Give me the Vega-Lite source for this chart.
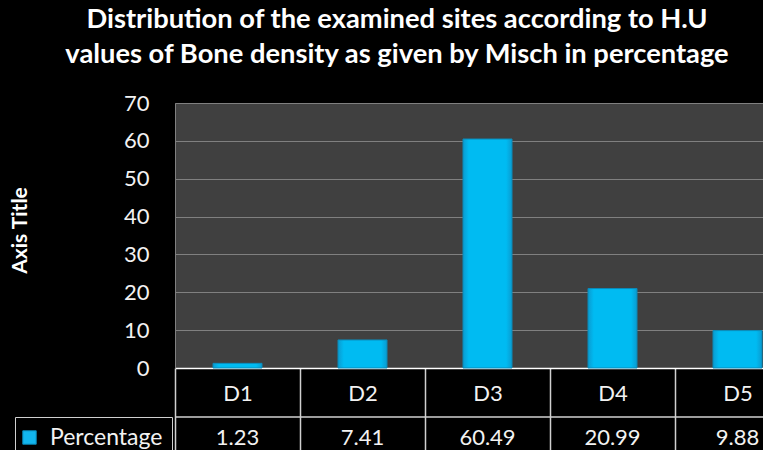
{
  "$schema": "https://vega.github.io/schema/vega-lite/v6.json",
  "width": 588,
  "height": 265,
  "autosize": {"type": "none"},
  "padding": {"left": 175, "top": 103, "right": 0, "bottom": 82},
  "background": "#000000",
  "view": {"fill": "#404040", "stroke": null},
  "config": {
    "axisY": {
      "titleFont": "Lato",
      "titleFontSize": 21,
      "titleFontWeight": "bold",
      "titleColor": "#ffffff",
      "titleAngle": 270,
      "titleX": -155,
      "titleY": 127,
      "titleAlign": "center",
      "titleBaseline": "middle",
      "labelOverlap": false,
      "labelFont": "Lato",
      "labelFontSize": 22,
      "labelColor": "#f2f2f2",
      "labelPadding": 26,
      "ticks": false,
      "domainColor": "#808080",
      "gridColor": "#808080",
      "gridWidth": 1.2
    }
  },
  "title": {
    "text": ["Distribution of the examined sites according to H.U", "values of Bone density as given by Misch in percentage"],
    "font": "Lato",
    "fontSize": 27.3,
    "fontWeight": "bold",
    "color": "#ffffff",
    "lineHeight": 35,
    "anchor": "middle",
    "frame": "group",
    "dx": -72,
    "offset": 24
  },
  "data": {
    "values": [
      {"category": "D1", "percentage": 1.23},
      {"category": "D2", "percentage": 7.41},
      {"category": "D3", "percentage": 60.49},
      {"category": "D4", "percentage": 20.99},
      {"category": "D5", "percentage": 9.88}
    ]
  },
  "encoding": {
    "x": {
      "field": "category",
      "type": "nominal",
      "sort": null,
      "scale": {"range": [0, 625], "paddingInner": 0, "paddingOuter": 0},
      "axis": {
        "title": null,
        "labelAngle": 0,
        "labelFont": "Lato",
        "labelFontSize": 22,
        "labelColor": "#f2f2f2",
        "labelBaseline": "middle",
        "labelPadding": -57,
        "tickSize": 82,
        "tickColor": "#d0d0d0",
        "tickWidth": 1.5,
        "tickBand": "extent",
        "domainColor": "#ffffff",
        "domainWidth": 1.5,
        "grid": false
      }
    }
  },
  "layer": [
    {
      "mark": {"type": "bar", "width": {"band": 0.392}},
      "encoding": {
        "y": {
          "field": "percentage",
          "type": "quantitative",
          "title": "Axis Title",
          "scale": {"domain": [0, 70], "nice": false},
          "axis": {"values": [0, 10, 20, 30, 40, 50, 60, 70], "tickCount": 10}
        },
        "color": {
          "datum": "Percentage",
          "scale": {"range": ["#12b6ee"]},
          "legend": {
            "title": null,
            "orient": "none",
            "legendX": -160,
            "legendY": 314,
            "strokeColor": "#d0d0d0",
            "padding": 9,
            "symbolOffset": -6,
            "symbolType": "square",
            "symbolSize": 180,
            "symbolStrokeColor": "#0b8ab8",
            "symbolStrokeWidth": 1,
            "labelOffset": 9,
            "labelFont": "Lato",
            "labelFontSize": 23,
            "labelColor": "#f2f2f2"
          }
        }
      }
    },
    {
      "mark": {
        "type": "bar",
        "width": {"band": 0.392},
        "stroke": "#0b8ab8",
        "strokeWidth": 1,
        "fill": {
          "x1": 0, "y1": 0, "x2": 1, "y2": 0,
          "gradient": "linear",
          "stops": [
            {"offset": 0, "color": "#0a9bd0"},
            {"offset": 0.12, "color": "#00bbf2"},
            {"offset": 0.88, "color": "#00bbf2"},
            {"offset": 1, "color": "#0a9bd0"}
          ]
        }
      },
      "encoding": {
        "y": {"field": "percentage", "type": "quantitative"}
      }
    },
    {
      "data": {"values": [{"row": "separator"}]},
      "mark": {"type": "rule", "color": "#d0d0d0", "strokeWidth": 1.5, "yOffset": 49},
      "encoding": {"x": null, "y": {"datum": 0, "type": "quantitative"}}
    },
    {
      "mark": {"type": "text", "dy": 70, "baseline": "middle", "font": "Lato", "fontSize": 22, "color": "#f2f2f2"},
      "encoding": {
        "y": {"datum": 0, "type": "quantitative"},
        "text": {"field": "percentage", "type": "quantitative", "format": ".2f"}
      }
    }
  ]
}
